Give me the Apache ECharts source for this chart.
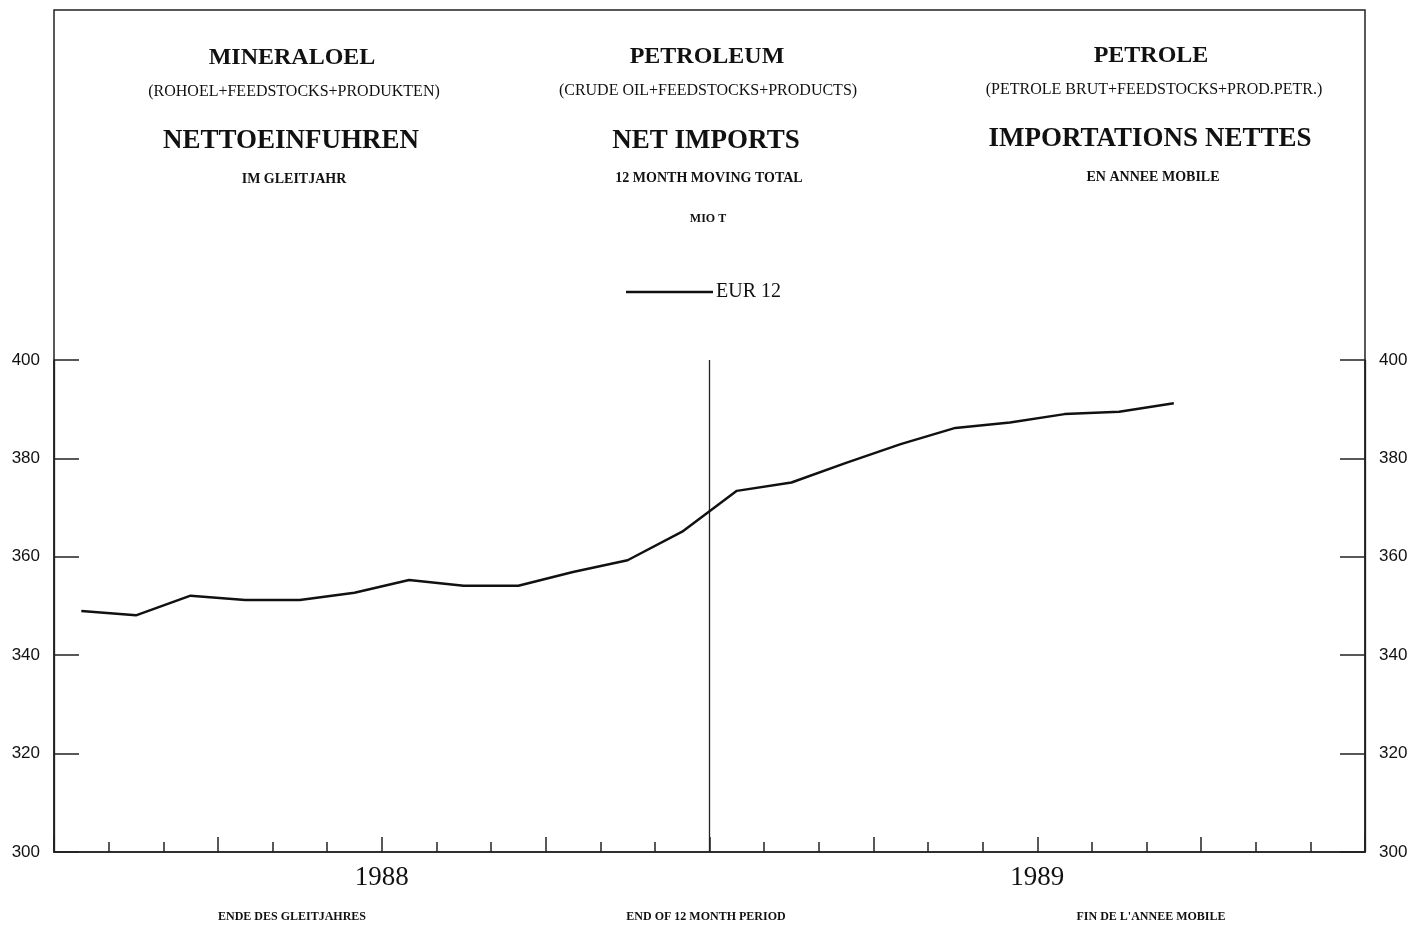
<!DOCTYPE html>
<html>
<head>
<meta charset="utf-8">
<script src="https://cdn.jsdelivr.net/npm/echarts@6/dist/echarts.min.js"></script>
<style>
html,body{margin:0;padding:0;background:#fff;}
#chart{width:1426px;height:929px;}
</style>
</head>
<body>
<div id="chart"></div>
<script>
// Months Jan 1988 .. Dec 1989
const months = ['JAN 88','FEB 88','MAR 88','APR 88','MAY 88','JUN 88','JUL 88','AUG 88','SEP 88','OCT 88','NOV 88','DEC 88',
                'JAN 89','FEB 89','MAR 89','APR 89','MAY 89','JUN 89','JUL 89','AUG 89','SEP 89','OCT 89','NOV 89','DEC 89'];
const years = ['1988', '1989'];
// EUR 12 net imports, 12 month moving total, Mio t (Jan 88 .. Sep 89)
const eur12 = [349.0, 348.1, 352.1, 351.2, 351.2, 352.7, 355.3, 354.1, 354.1, 356.9, 359.3, 365.1,
               373.4, 375.1, 379.1, 382.9, 386.2, 387.3, 389.0, 389.5, 391.2];
const yTicks = [300, 320, 340, 360, 380, 400];
const seriesName = 'EUR 12';

const serif = '"Liberation Serif","DejaVu Serif",serif';
const sans = '"Liberation Sans","DejaVu Sans",sans-serif';

const chart = echarts.init(document.getElementById('chart'));

function txt(x, y, text, size, bold) {
  return {type:'text', x:x, y:y, style:{text:text, x:0, y:0, fill:'#111', font:(bold?'bold ':'')+size+'px '+serif, textAlign:'center', textVerticalAlign:'middle'}};
}

const graphics = [
  {type:'rect', shape:{x:54, y:10, width:1311, height:842}, style:{fill:'none', stroke:'#222', lineWidth:1.5}, z:0},
  txt(292, 58, 'MINERALOEL', 24, true),
  txt(294, 92, '(ROHOEL+FEEDSTOCKS+PRODUKTEN)', 16, false),
  txt(291, 141, 'NETTOEINFUHREN', 27, true),
  txt(294, 179, 'IM GLEITJAHR', 14, true),
  txt(707, 57, 'PETROLEUM', 24, true),
  txt(708, 91, '(CRUDE OIL+FEEDSTOCKS+PRODUCTS)', 16, false),
  txt(706, 141, 'NET IMPORTS', 27, true),
  txt(709, 178, '12 MONTH MOVING TOTAL', 14, true),
  txt(708, 219, 'MIO T', 12, true),
  txt(1151, 56, 'PETROLE', 24, true),
  txt(1154, 90, '(PETROLE BRUT+FEEDSTOCKS+PROD.PETR.)', 16, false),
  txt(1150, 139, 'IMPORTATIONS NETTES', 27, true),
  txt(1153, 177, 'EN ANNEE MOBILE', 14, true),
  txt(292, 917, 'ENDE DES GLEITJAHRES', 12, true),
  txt(706, 917, 'END OF 12 MONTH PERIOD', 12, true),
  txt(1151, 917, "FIN DE L'ANNEE MOBILE", 12, true)
];

const yAxisBase = {
  type:'value', min:300, max:400, interval:20,
  axisLine:{show:true, lineStyle:{color:'#222', width:1.5}},
  axisTick:{show:true, inside:true, length:25, lineStyle:{color:'#222', width:1.5}},
  axisLabel:{color:'#111', fontFamily:sans, fontSize:17, margin:14, padding:[6,0,0,0],
    formatter:function(v){ return yTicks.indexOf(v) >= 0 ? String(v) : ''; }},
  splitLine:{show:false}
};

chart.setOption({
  animation:false,
  backgroundColor:'#fff',
  graphic:graphics,
  legend:{
    data:[{name:seriesName, icon:'rect'}], left:621, top:277, itemWidth:87, itemHeight:2.5, itemGap:10,
    textStyle:{fontFamily:serif, fontSize:20, color:'#111', padding:[0,0,0,-2]}
  },
  grid:{left:54, right:61, top:360, bottom:77},
  xAxis:[
    {type:'category', data:months, boundaryGap:true, position:'bottom',
     axisLine:{show:true, lineStyle:{color:'#222', width:1.5}},
     axisTick:{show:true, inside:true, length:10, interval:0, lineStyle:{color:'#222', width:1.5}},
     axisLabel:{show:false}, splitLine:{show:false}},
    {type:'category', data:months, boundaryGap:true, position:'bottom',
     axisLine:{show:false},
     axisTick:{show:true, inside:true, length:15, interval:function(i){return i % 3 === 0;}, lineStyle:{color:'#222', width:1.5}},
     axisLabel:{show:false}, splitLine:{show:false}},
    {type:'category', data:years, boundaryGap:true, position:'bottom',
     axisLine:{show:false}, axisTick:{show:false},
     axisLabel:{show:true, color:'#111', fontFamily:serif, fontSize:27, margin:12},
     splitLine:{show:true, lineStyle:{color:'#222', width:1.3}}}
  ],
  yAxis:[
    Object.assign({}, yAxisBase, {position:'left'}),
    Object.assign({}, yAxisBase, {position:'right'})
  ],
  series:[
    {name:seriesName, type:'line', data:eur12, xAxisIndex:0, yAxisIndex:0,
     symbol:'none', smooth:false, lineStyle:{color:'#111', width:2.5}, itemStyle:{color:'#111'}}
  ]
});
</script>
</body>
</html>
